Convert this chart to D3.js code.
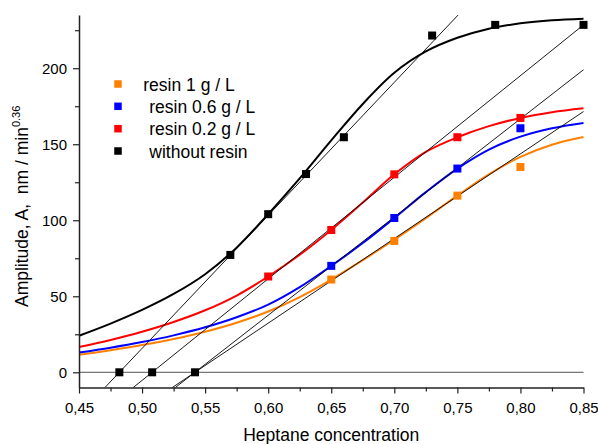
<!DOCTYPE html>
<html>
<head>
<meta charset="utf-8">
<script src="https://cdn.jsdelivr.net/npm/d3@7"></script>
<style>
  html, body { margin: 0; padding: 0; background: #fff; }
  svg { display: block; font-family: "Liberation Sans", Arial, sans-serif; }
</style>
</head>
<body>
<svg id="chart" width="598" height="444"></svg>
<script>
// ---------- data ----------
const seriesNames = ["resin 1 g / L", "resin 0.6 g / L", "resin 0.2 g / L", "without resin"];
const seriesColors = ["#FF8000", "#0000FF", "#FF0000", "#000000"];

// measured points
const orangeX = [0.65, 0.70, 0.75, 0.80];
const orangeY = [61, 86.4, 116.2, 135];
const blueX = [0.65, 0.70, 0.75, 0.80];
const blueY = [70, 101.5, 134, 160.5];
const redX = [0.60, 0.65, 0.70, 0.75, 0.80];
const redY = [63, 93.6, 130.2, 154.6, 167.3];
const blackX = [0.57, 0.60, 0.63, 0.66, 0.73, 0.78, 0.85];
const blackY = [77.2, 104, 130.4, 154.6, 221.5, 228.5, 228.5];

// fitted curves
const curveX = [0.45, 0.475, 0.50, 0.525, 0.55, 0.575, 0.60, 0.625, 0.65, 0.675, 0.70, 0.725, 0.75, 0.775, 0.80, 0.825, 0.85];
const orangeFit = [11.5, 14.5, 17.9, 21.9, 26.7, 32.6, 40, 49.5, 61, 73.8, 87.2, 101.4, 116.2, 130.2, 141.7, 149.7, 154.7];
const blueFit   = [13, 16.2, 19.9, 24.3, 29.6, 36.2, 44.5, 56, 70, 85, 101.5, 118.5, 134, 146.5, 155, 160.5, 164];
const redFit    = [16.6, 21.3, 26.7, 33.1, 40.8, 50.5, 63, 77.3, 93.6, 111.6, 130.2, 145, 154.6, 161.9, 167.3, 171.1, 173.7];
const blackFit  = [24, 32, 41, 51.5, 64.5, 82, 104, 127.5, 152.5, 176.5, 197, 211, 220, 226, 229.5, 231.5, 232.5];

// x-intercepts of the tangent lines (zero-amplitude points)
const zeroX = [0.482, 0.508, 0.542];
const zeroY = [0, 0, 0];

// tangent lines: start and end in data units
const tangentX0 = [0.4706, 0.493, 0.5264, 0.524];
const tangentY0 = [-10, -10, -10, -10];
const tangentX1 = [0.7506, 0.85, 0.85, 0.85];
const tangentY1 = [235, 228.5, 199, 171.5];

// axes
const xTicks = [0.45, 0.50, 0.55, 0.60, 0.65, 0.70, 0.75, 0.80, 0.85];
const xMinorTicks = [0.475, 0.525, 0.575, 0.625, 0.675, 0.725, 0.775, 0.825];
const yTicks = [0, 50, 100, 150, 200];
const yMinorTicks = [25, 75, 125, 175, 225];
const xDomain = [0.45, 0.85];
const yDomain = [-10, 235];

// ---------- drawing ----------
const svg = d3.select("#chart");
const pL = 79, pR = 583.5, pT = 15, pB = 387.5;

const x = d3.scaleLinear().domain(xDomain).range([pL, pR]);
const y = d3.scaleLinear().domain(yDomain).range([pB, pT]);

// zero line
svg.append("line")
  .attr("x1", x(xDomain[0])).attr("x2", x(xDomain[1]))
  .attr("y1", y(0)).attr("y2", y(0))
  .attr("stroke", "#555").attr("stroke-width", 1);

// fitted curves
const fits = [orangeFit, blueFit, redFit, blackFit];
const line = d3.line().x(d => x(d[0])).y(d => y(d[1])).curve(d3.curveCatmullRom.alpha(0.5));
fits.forEach((f, i) => {
  svg.append("path")
    .attr("d", line(curveX.map((cx, j) => [cx, f[j]])))
    .attr("fill", "none")
    .attr("stroke", seriesColors[i])
    .attr("stroke-width", 2);
});

// tangent lines
svg.append("g").selectAll("line")
  .data(tangentX0.map((d, i) => ({x0: d, y0: tangentY0[i], x1: tangentX1[i], y1: tangentY1[i]})))
  .join("line")
  .attr("x1", d => x(d.x0)).attr("y1", d => y(d.y0))
  .attr("x2", d => x(d.x1)).attr("y2", d => y(d.y1))
  .attr("stroke", "#000").attr("stroke-width", 0.9);

// markers
const ms = 8;
const pointSets = [[orangeX, orangeY], [blueX, blueY], [redX, redY], [blackX, blackY], [zeroX, zeroY]];
const pointColors = [seriesColors[0], seriesColors[1], seriesColors[2], seriesColors[3], "#000000"];
pointSets.forEach((ps, i) => {
  svg.append("g").selectAll("rect")
    .data(ps[0].map((d, j) => [d, ps[1][j]]))
    .join("rect")
    .attr("x", d => x(d[0]) - ms / 2)
    .attr("y", d => y(d[1]) - ms / 2)
    .attr("width", ms).attr("height", ms)
    .attr("fill", pointColors[i]);
});

// axes
const fmt = d => d3.format(".2f")(d).replace(".", ",");
svg.append("g").attr("transform", `translate(0,${pB})`)
  .call(d3.axisBottom(x).tickValues(xTicks).tickFormat(fmt).tickSize(6).tickPadding(9).tickSizeOuter(0));
svg.append("g").attr("transform", `translate(0,${pB})`)
  .call(d3.axisBottom(x).tickValues(xMinorTicks).tickFormat("").tickSize(4).tickSizeOuter(0))
  .select(".domain").remove();
svg.append("g").attr("transform", `translate(${pL},0)`)
  .call(d3.axisLeft(y).tickValues(yTicks).tickSize(6).tickPadding(6).tickSizeOuter(0));
svg.append("g").attr("transform", `translate(${pL},0)`)
  .call(d3.axisLeft(y).tickValues(yMinorTicks).tickFormat("").tickSize(4).tickSizeOuter(0))
  .select(".domain").remove();

svg.selectAll(".domain").attr("stroke", "#222").attr("stroke-width", 1.5);
svg.selectAll(".tick line").attr("stroke", "#222").attr("stroke-width", 1.2);
svg.selectAll(".tick text").attr("fill", "#000").attr("font-size", 15)
  .attr("font-family", "'Liberation Sans', Arial, sans-serif");

// axis titles
svg.append("text")
  .attr("x", (pL + pR) / 2).attr("y", 441)
  .attr("text-anchor", "middle")
  .attr("font-size", 17.5)
  .text("Heptane concentration");

const yt = svg.append("text")
  .attr("transform", "translate(28,307) rotate(-90)")
  .attr("font-size", 17.5);
yt.append("tspan").text("Amplitude, A,\u00A0\u00A0nm / min");
yt.append("tspan").attr("dy", -8).attr("font-size", 11).text("0.36");

// legend
const legY = [84, 106.3, 128.7, 151];
const legTextX = [143.3, 149.3, 149.3, 149.3];
const leg = svg.append("g");
seriesNames.forEach((name, i) => {
  leg.append("rect")
    .attr("x", 118 - 3.75).attr("y", legY[i] - 3.75)
    .attr("width", 7.5).attr("height", 7.5)
    .attr("fill", seriesColors[i]);
  leg.append("text")
    .attr("x", legTextX[i]).attr("y", legY[i] + 6.5)
    .attr("font-size", 17.5)
    .text(name);
});
</script>
</body>
</html>
